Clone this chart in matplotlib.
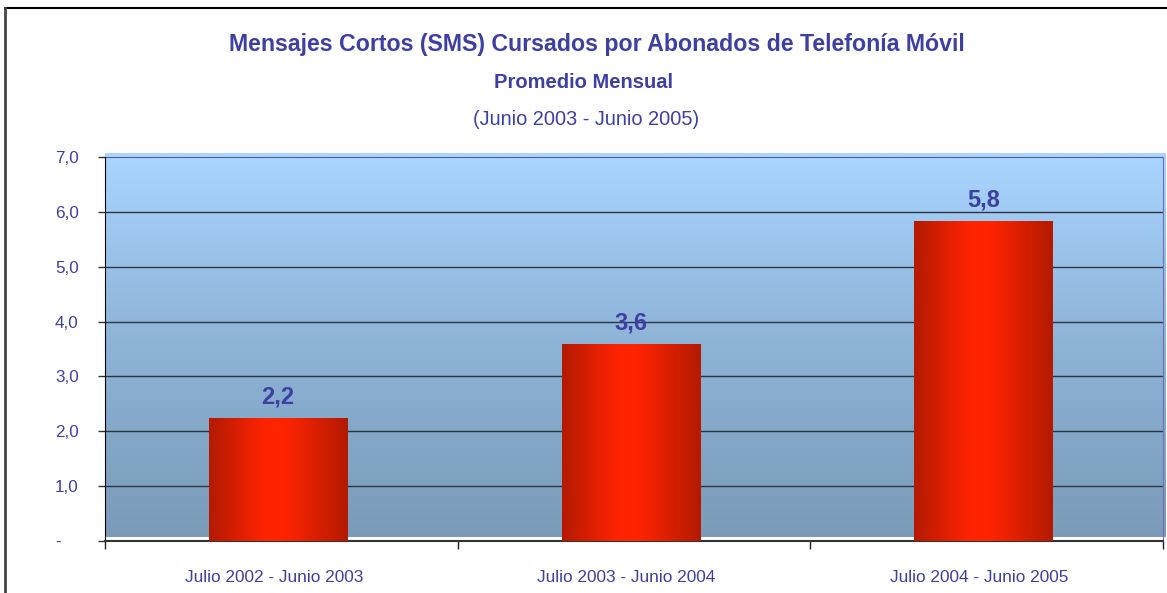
import numpy as np
import matplotlib
matplotlib.use("Agg")
import matplotlib.pyplot as plt
from matplotlib.colors import LinearSegmentedColormap
from matplotlib.lines import Line2D

categories = ["Julio 2002 - Junio 2003", "Julio 2003 - Junio 2004", "Julio 2004 - Junio 2005"]
values = [2.24, 3.59, 5.83]
ytick_values = [0, 1, 2, 3, 4, 5, 6, 7]
ytick_labels = ["-", "1,0", "2,0", "3,0", "4,0", "5,0", "6,0", "7,0"]
title = "Mensajes Cortos (SMS) Cursados por Abonados de Telefonía Móvil"
subtitle = "Promedio Mensual"
period = "(Junio 2003 - Junio 2005)"

TXT = "#3D3FA3"
plt.rcParams['font.family'] = ['Liberation Sans', 'DejaVu Sans']
FAM = ['Liberation Sans', 'DejaVu Sans']
sz = dict(title=16.7, sub=14.5, period=14.4, xlab=12.4, val=17.0)

W, H = 1167, 593
fig = plt.figure(figsize=(W / 100, H / 100), dpi=100)
ax = fig.add_axes([105 / W, 1 - 541 / H, (1163 - 105) / W, (541 - 157) / H])

# background gradient
bg = LinearSegmentedColormap.from_list("bg", ["#7A9BB8", "#8DB3D6", "#A9D5FF"])
grad = np.linspace(0, 1, 256).reshape(-1, 1)
ax.imshow(grad, cmap=bg, origin="lower", aspect="auto",
          extent=[0, 1.002, 0.01, 1.01], transform=ax.transAxes,
          zorder=0, clip_on=False)

x = np.arange(len(categories)) - 0.009
bars = ax.bar(x, values, width=0.392, color="none", edgecolor="none", zorder=3)

barcm = LinearSegmentedColormap.from_list(
    "bar", [(0, "#B31A00"), (0.4, "#FF2400"), (0.55, "#FF2400"), (1, "#B31A00")])
hgrad = np.linspace(0, 1, 256).reshape(1, -1)
for b in bars:
    x0, w, h = b.get_x(), b.get_width(), b.get_height()
    im = ax.imshow(hgrad, cmap=barcm, aspect="auto",
                   extent=[x0, x0 + w, 0, h], zorder=3)
    im.set_clip_path(b)
    ax.text(x0 + w / 2, h + 0.26, f"{h:.1f}".replace(".", ","),
            ha="center", va="baseline", color=TXT, fontsize=sz["val"],
            fontweight="bold", family=FAM, zorder=5)

ax.set_xlim(-0.5, 2.5)
ax.set_ylim(0, 7)

for yv in ytick_values[1:-1]:
    ax.axhline(yv, color="#2E3440", lw=1.0, zorder=2)
ax.axhline(7, color="#3A3A90", lw=1.2, zorder=2)

ax.set_yticks(ytick_values)
ax.set_yticklabels(ytick_labels, color=TXT, fontsize=12.3, ha="left")
ax.tick_params(axis="y", length=5, width=1, color="#333333", pad=31)

ax.set_xticks([-0.5, 0.5, 1.5, 2.5])
ax.set_xticklabels([])
ax.set_xticks(x - 0.012, minor=True)
ax.set_xticklabels(categories, minor=True, color=TXT, fontsize=sz["xlab"],
                   family=FAM, va="baseline")
ax.tick_params(axis="x", which="major", length=6, width=1, color="#222222", direction="out")
ax.tick_params(axis="x", which="minor", length=0, pad=29.5)

ax.spines["top"].set_visible(False)
ax.spines["right"].set_color("#6D70B8")
ax.spines["left"].set_color("#000000")
ax.spines["bottom"].set_color("#333333")
ax.spines["bottom"].set_linewidth(1.5)

fig.text(596.5 / W, 1 - 51 / H, title, ha="center", va="baseline", color=TXT,
         fontsize=sz["title"], fontweight="bold", family=FAM)
fig.text(583 / W, 1 - 88 / H, subtitle, ha="center", va="baseline", color=TXT,
         fontsize=sz["sub"], fontweight="bold", family=FAM)
fig.text(586 / W, 1 - 125 / H, period, ha="center", va="baseline", color=TXT,
         fontsize=sz["period"], family=FAM)

# frame lines
fig.add_artist(Line2D([5 / W, 1], [1 - 8 / H, 1 - 8 / H], color="black", lw=1.5,
                      transform=fig.transFigure))
fig.add_artist(Line2D([5 / W, 5 / W], [0, 1 - 8 / H], color="#444444", lw=2,
                      transform=fig.transFigure))

fig.savefig("out.png", dpi=100)
